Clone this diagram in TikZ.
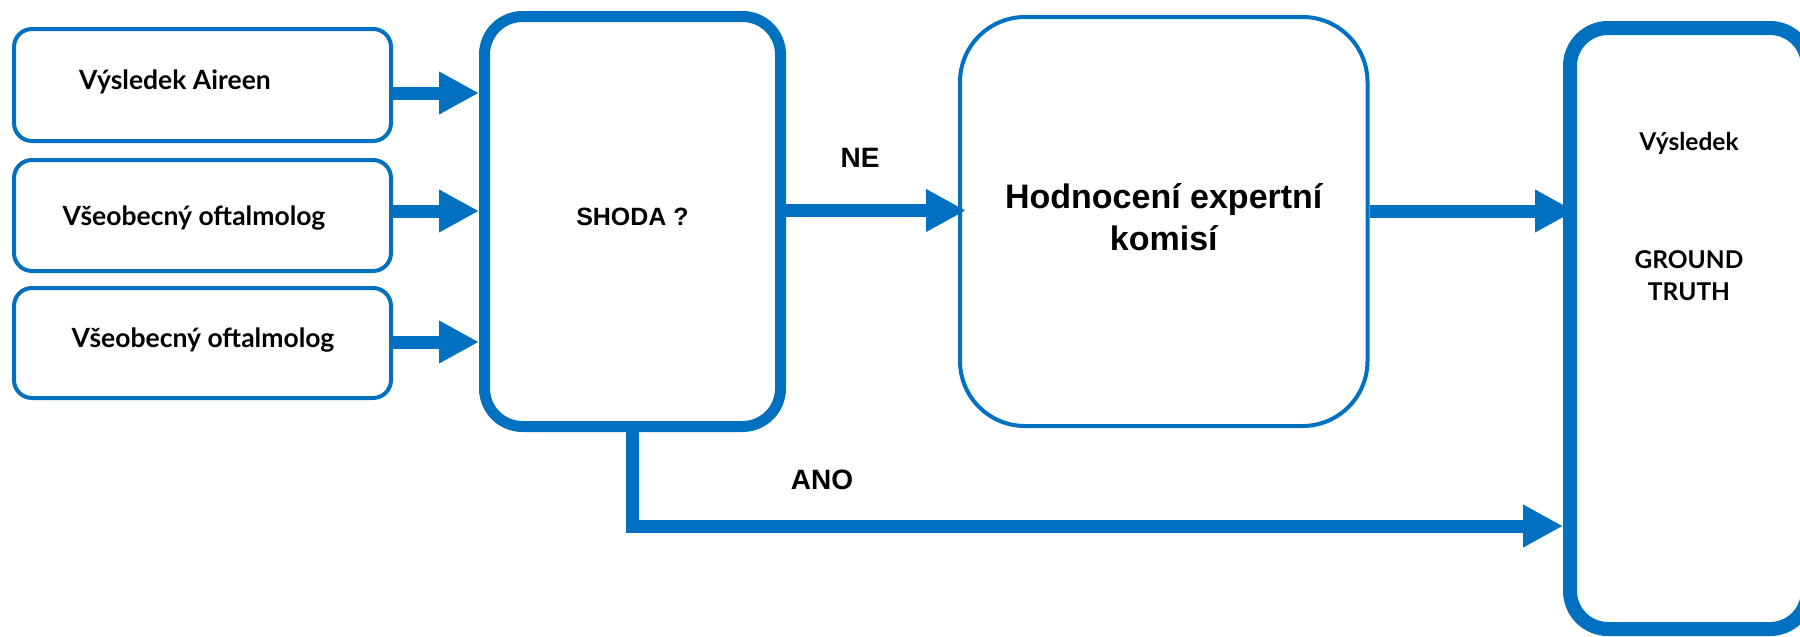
\documentclass[tikz,border=0pt]{standalone}
\usepackage{fontspec}
\setmainfont{Liberation Sans}
\newfontfamily\aptos{Lato}
\usetikzlibrary{arrows.meta}
\definecolor{ob}{HTML}{0070C0}
\begin{document}
\begin{tikzpicture}[x=1pt,y=-1pt,
  box/.style={draw=ob, fill=white, rectangle, rounded corners=#1, inner sep=0pt},
  inbox/.style={box=18pt, line width=4pt, minimum width=377pt},
  barrow/.style={draw=ob, line width=13pt, -{Triangle[length=40pt,width=40pt]}},
  lbl/.style={font=\aptos\bfseries\fontsize{26.5}{30}\selectfont, inner sep=0pt, anchor=center},
  gtl/.style={font=\aptos\bfseries\fontsize{24.5}{28}\selectfont, inner sep=0pt},
  arl/.style={font=\bfseries\fontsize{28}{32}\selectfont, inner sep=0pt}
]
\useasboundingbox (0,0) rectangle (1800,637);

% input boxes
\node[inbox, minimum height=112pt] (in1) at (202.5,85) {};
\node[inbox, minimum height=111pt] (in2) at (202.5,215.5) {};
\node[inbox, minimum height=110pt] (in3) at (202.5,343) {};
\node[lbl] (t1) at (175,82) {Výsledek Aireen};
\node[lbl] (t2) at (194,218) {Všeobecný oftalmolog};
\node[lbl] (t3) at (203,340) {Všeobecný oftalmolog};

% SHODA box
\node[box=38pt, line width=11pt, minimum width=296pt, minimum height=410pt] (shoda) at (632.5,221.5) {};
\node[font=\bfseries\fontsize{25}{29}\selectfont, inner sep=0pt] (shodat) at (632.5,217) {SHODA ?};

% expert commission
\node[box=65pt, line width=4pt, minimum width=407.5pt, minimum height=409pt] (hod) at (1163.75,221.5) {};
\node[font=\bfseries\fontsize{34}{42}\selectfont, align=center, inner sep=0pt] (hodt) at (1163.75,217) {Hodnocení expertní\\komisí};

% ground truth
\node[box=38pt, line width=14pt, minimum width=238pt, minimum height=601pt] (gt) at (1689,328.5) {};
\node[gtl] (gt1) at (1689,143) {Výsledek};
\node[gtl] (gt2) at (1689,260) {GROUND};
\node[gtl] (gt3) at (1689,292) {TRUTH};

% labels
\node[arl] (ne) at (860,158) {NE};
\node[arl] (ano) at (822,480) {ANO};

% connectors
\draw[barrow] ([yshift=-8pt]in1.east) -- ([yshift=-8pt]in1.east -| shoda.west);
\draw[barrow] ([yshift=4.5pt]in2.east) -- ([yshift=4.5pt]in2.east -| shoda.west);
\draw[barrow] ([yshift=1pt]in3.east) -- ([yshift=1pt]in3.east -| shoda.west);
\draw[barrow] ([yshift=11pt]shoda.east) -- ([yshift=11pt,xshift=8pt]hod.west);
\draw[barrow] ([yshift=10.5pt]hod.east) -- ([yshift=117.5pt,xshift=12pt]gt.west);
\draw[barrow] (shoda.south) |- ([yshift=-197.5pt]gt.west);
\end{tikzpicture}
\end{document}
